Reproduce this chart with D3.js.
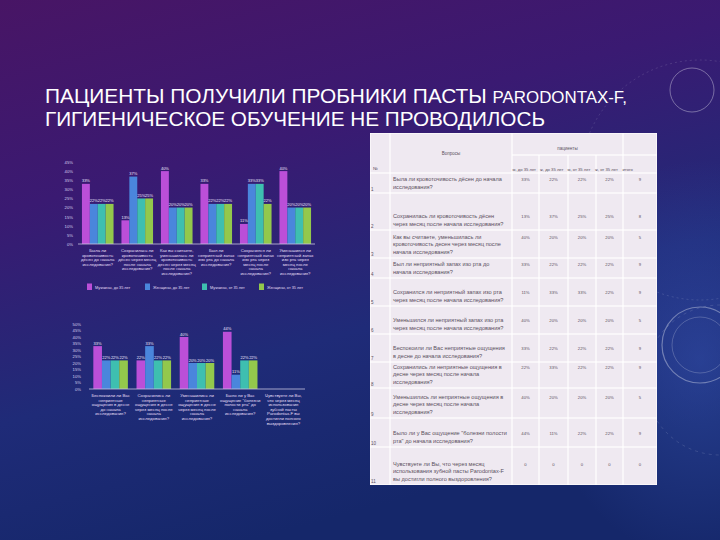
<!DOCTYPE html>
<html><head><meta charset="utf-8">
<script src="https://cdn.jsdelivr.net/npm/d3@7"></script>
<style>body{margin:0;background:#2a1a6a}svg{display:block}</style>
</head><body><svg id="c" width="720" height="540"></svg>
<script>
// ---------- DATA ----------
const seriesNames = ["Мужчины, до 35 лет", "Женщины, до 35 лет", "Мужчины, от 35 лет", "Женщины, от 35 лет"];
const tableHeaders = ["м, до 35 лет", "ж, до 35 лет", "м, от 35 лет", "ж, от 35 лет", "итого"];
const questions = [
  "Была ли кровоточивость дёсен до начала исследования?",
  "Сохранилась ли кровоточивость дёсен через месяц после начала исследования?",
  "Как вы считаете, уменьшилась ли кровоточивость десен через месяц после начала исследования?",
  "Был ли неприятный запах изо рта до начала исследования?",
  "Сохранился ли неприятный запах изо рта через месяц после начала исследования?",
  "Уменьшился ли неприятный запах изо рта через месяц после начала исследования?",
  "Беспокоили ли Вас неприятные ощущения в десне до начала исследования?",
  "Сохранились ли неприятные ощущения в десне через месяц после начала исследования?",
  "Уменьшились ли неприятные ощущения в десне через месяц после начала исследования?",
  "Было ли у Вас ощущение \"болезни полости рта\" до начала исследования?",
  "Чувствуете ли Вы, что через месяц использования зубной пасты Parodontax-F вы достигли полного выздоровления?"
];
const menUnder35   = [33, 13, 40, 33, 11, 40, 33, 22, 40, 44, 0];
const womenUnder35 = [22, 37, 20, 22, 33, 20, 22, 33, 20, 11, 0];
const menOver35    = [22, 25, 20, 22, 33, 20, 22, 22, 20, 22, 0];
const womenOver35  = [22, 25, 20, 22, 22, 20, 22, 22, 20, 22, 0];
const totals       = [9, 8, 5, 9, 9, 5, 9, 9, 5, 9, 0];
const chart1Ticks = [0, 5, 10, 15, 20, 25, 30, 35, 40, 45];
const chart2Ticks = [0, 5, 10, 15, 20, 25, 30, 35, 40, 45, 50];
const chart1Questions = [0, 1, 2, 3, 4, 5];
const chart2Questions = [6, 7, 8, 9, 10];

// ---------- STYLE ----------
const colors = ["#bb4fd8", "#4a86dc", "#3ebfb0", "#93c84c"];
const series = [menUnder35, womenUnder35, menOver35, womenOver35];

const svg = d3.select("#c");
const defs = svg.append("defs");
const bg = defs.append("linearGradient").attr("id", "bg").attr("x1", "0").attr("y1", "0").attr("x2", "0.35").attr("y2", "1");
bg.append("stop").attr("offset", "0").attr("stop-color", "#481565");
bg.append("stop").attr("offset", "0.35").attr("stop-color", "#3a1a72");
bg.append("stop").attr("offset", "0.7").attr("stop-color", "#1f2b78");
bg.append("stop").attr("offset", "1").attr("stop-color", "#15276a");
svg.append("rect").attr("width", 720).attr("height", 540).attr("fill", "url(#bg)");
const glow = defs.append("radialGradient").attr("id", "glow");
glow.append("stop").attr("offset", "0").attr("stop-color", "#3d5cc0").attr("stop-opacity", 0.45);
glow.append("stop").attr("offset", "1").attr("stop-color", "#3d5cc0").attr("stop-opacity", 0);
svg.append("ellipse").attr("cx", 700).attr("cy", 360).attr("rx", 160).attr("ry", 200).attr("fill", "url(#glow)");

// decorative arcs
const deco = svg.append("g").attr("fill", "none").attr("stroke", "#ffffff");
deco.append("circle").attr("cx", 692).attr("cy", 90).attr("r", 22).attr("stroke-opacity", 0.35).attr("stroke-width", 1);
deco.append("circle").attr("cx", 700).attr("cy", 180).attr("r", 120).attr("stroke-opacity", 0.12).attr("stroke-dasharray", "2 3");
deco.append("circle").attr("cx", 700).attr("cy", 345).attr("r", 38).attr("stroke-opacity", 0.35).attr("stroke-width", 1.2);
deco.append("circle").attr("cx", 700).attr("cy", 345).attr("r", 28).attr("stroke-opacity", 0.2).attr("stroke-width", 1);
deco.append("circle").attr("cx", 720).attr("cy", 380).attr("r", 75).attr("stroke-opacity", 0.12).attr("stroke-dasharray", "3 4");

// ---------- TITLE ----------
const title = svg.append("g").attr("fill", "#ffffff").attr("font-family", "'Liberation Sans', Arial, sans-serif");
const t1 = title.append("text").attr("x", 45).attr("y", 103).attr("font-size", 21)
  .attr("textLength", 582).attr("lengthAdjust", "spacingAndGlyphs");
t1.append("tspan").text("ПАЦИЕНТЫ ПОЛУЧИЛИ ПРОБНИКИ ПАСТЫ ");
t1.append("tspan").attr("font-size", 17).text("PARODONTAX-F,");
title.append("text").attr("x", 45).attr("y", 126).attr("font-size", 21)
  .attr("textLength", 500).attr("lengthAdjust", "spacingAndGlyphs")
  .text("ГИГИЕНИЧЕСКОЕ ОБУЧЕНИЕ НЕ ПРОВОДИЛОСЬ");

// ---------- helpers ----------
function wrapLines(str, maxW, fontSize, family) {
  const tmp = svg.append("text").attr("font-size", fontSize).attr("font-family", family);
  const words = str.split(" ");
  const lines = [];
  let cur = "";
  for (const w of words) {
    const test = cur ? cur + " " + w : w;
    tmp.text(test);
    if (tmp.node().getComputedTextLength() > maxW && cur) { lines.push(cur); cur = w; }
    else cur = test;
  }
  if (cur) lines.push(cur);
  tmp.remove();
  return lines;
}
const FF = "'Liberation Sans', Arial, sans-serif";

function drawChart(qIdx, ticks, xRange, yRange, tickX, labelY) {
  const g = svg.append("g").attr("font-family", FF);
  const x0 = d3.scaleBand().domain(qIdx).range(xRange).paddingInner(0.2).paddingOuter(0.1);
  const x1 = d3.scaleBand().domain(d3.range(4)).range([0, x0.bandwidth()]);
  const y = d3.scaleLinear().domain([0, d3.max(ticks)]).range(yRange);
  const ax = g.append("g").attr("transform", `translate(${tickX},0)`)
    .call(d3.axisLeft(y).tickValues(ticks).tickFormat(d => d + "%").tickSize(0).tickPadding(0));
  ax.select(".domain").remove();
  ax.selectAll("text").attr("fill", "#d8d0ee").attr("font-size", 4.2).attr("font-family", FF);
  const grp = g.selectAll("g.grp").data(qIdx).join("g").attr("transform", d => `translate(${x0(d)},0)`);
  grp.selectAll("rect").data(q => series.map((s, i) => ({ i, v: s[q] }))).join("rect")
    .attr("x", d => x1(d.i)).attr("width", x1.bandwidth())
    .attr("y", d => y(d.v)).attr("height", d => y(0) - y(d.v))
    .attr("fill", d => colors[d.i]);
  grp.selectAll("text.val").data(q => series.map((s, i) => ({ i, v: s[q] })).filter(d => d.v > 0)).join("text")
    .attr("class", "val")
    .attr("x", d => x1(d.i) + x1.bandwidth() / 2).attr("y", d => y(d.v) - 1.5)
    .attr("text-anchor", "middle").attr("font-size", 4).attr("fill", "#f0e8ff")
    .text(d => d.v + "%");
  g.append("line").attr("x1", xRange[0]).attr("x2", xRange[1]).attr("y1", y(0)).attr("y2", y(0))
    .attr("stroke", "#c8c4e0").attr("stroke-width", 0.8);
  qIdx.forEach(q => {
    const lines = wrapLines(questions[q], x0.step() * 0.98, 4.3, FF);
    const t = g.append("text").attr("text-anchor", "middle").attr("font-size", 4.3).attr("fill", "#e4ddf5");
    lines.forEach((l, k) => t.append("tspan").attr("x", x0(q) + x0.bandwidth() / 2).attr("y", labelY + k * 4.6).text(l));
  });
  return g;
}

drawChart(chart1Questions, chart1Ticks, [78, 315], [244, 162], 73, 252);
drawChart(chart2Questions, chart2Ticks, [89, 305], [389, 324], 81, 397);

// legend for chart 1
const legX = [87, 145, 202, 259];
const leg = svg.append("g").attr("font-family", FF);
seriesNames.forEach((n, i) => {
  leg.append("rect").attr("x", legX[i]).attr("y", 283.5).attr("width", 5).attr("height", 6.5).attr("fill", colors[i]);
  leg.append("text").attr("x", legX[i] + 8).attr("y", 288.5).attr("font-size", 3.8).attr("fill", "#e4ddf5").text(n);
});

// ---------- TABLE ----------
const colEdges = [370, 390, 512, 539, 568, 596, 623, 657];
const rowEdges = [133, 155, 173, 193, 230, 258, 278, 306, 334, 362, 388, 418, 447, 485];
const tbl = svg.append("g").attr("font-family", FF);
tbl.append("rect").attr("x", colEdges[0]).attr("y", rowEdges[0])
  .attr("width", colEdges[7] - colEdges[0]).attr("height", rowEdges[13] - rowEdges[0]).attr("fill", "#ffffff");
function cell(x0, y0, x1, y1) {
  tbl.append("rect").attr("x", x0 + 0.6).attr("y", y0 + 0.6).attr("width", x1 - x0 - 1.2).attr("height", y1 - y0 - 1.2).attr("fill", "#efe9f1");
}
cell(colEdges[0], rowEdges[0], colEdges[1], rowEdges[2]);
cell(colEdges[1], rowEdges[0], colEdges[2], rowEdges[2]);
cell(colEdges[2], rowEdges[0], colEdges[6], rowEdges[1]);
cell(colEdges[6], rowEdges[0], colEdges[7], rowEdges[1]);
for (let c = 2; c < 7; c++) cell(colEdges[c], rowEdges[1], colEdges[c + 1], rowEdges[2]);
const txtCol = "#5a5060";
tbl.append("text").attr("x", 373).attr("y", 170).attr("font-size", 4.5).attr("fill", txtCol).text("№");
tbl.append("text").attr("x", (colEdges[1] + colEdges[2]) / 2).attr("y", 155).attr("text-anchor", "middle").attr("font-size", 4.5).attr("fill", txtCol).text("Вопросы");
tbl.append("text").attr("x", (colEdges[2] + colEdges[6]) / 2).attr("y", 150).attr("text-anchor", "middle").attr("font-size", 4.5).attr("fill", txtCol).text("пациенты");
tableHeaders.forEach((h, i) => {
  tbl.append("text").attr("x", colEdges[2] + i * 27.5 + 0.5).attr("y", 171).attr("font-size", 4.2).attr("fill", txtCol).text(h);
});
questions.forEach((q, r) => {
  const y0 = rowEdges[r + 2], y1 = rowEdges[r + 3];
  for (let c = 0; c < 7; c++) cell(colEdges[c], y0, colEdges[c + 1], y1);
  const lines = wrapLines(q, colEdges[2] - colEdges[1] - 7, 5.6, FF);
  const firstY = y1 - 4 - (lines.length - 1) * 7.6;
  const t = tbl.append("text").attr("font-size", 5.6).attr("fill", txtCol);
  lines.forEach((l, k) => t.append("tspan").attr("x", colEdges[1] + 3).attr("y", firstY + k * 7.6).text(l));
  tbl.append("text").attr("x", 371).attr("y", y1 - 2).attr("font-size", 4.5).attr("fill", txtCol).text(r + 1);
  const vals = series.map(s => s[r] === 0 ? "0" : s[r] + "%").concat([String(totals[r])]);
  vals.forEach((v, c) => {
    tbl.append("text").attr("x", (colEdges[c + 2] + colEdges[c + 3]) / 2).attr("y", firstY)
      .attr("text-anchor", "middle").attr("font-size", 4.2).attr("fill", txtCol).text(v);
  });
});
</script></body></html>
